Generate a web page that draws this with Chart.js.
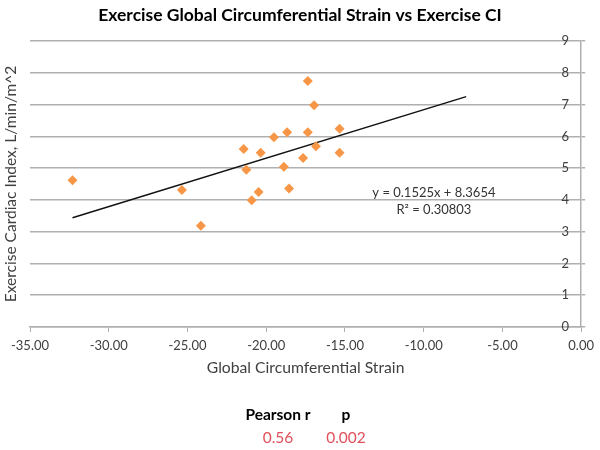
<!DOCTYPE html>
<html>
<head>
<meta charset="utf-8">
<script src="https://cdn.jsdelivr.net/npm/chart.js@4.4.1/dist/chart.umd.min.js"></script>
<style>
  body { margin: 0; background: #fff; }
  #wrap { position: relative; width: 600px; height: 450px; }
  .stat { position: absolute; font-family: Lato, "Open Sans", sans-serif; font-size: 15.5px; transform: translate(-50%, -50%); white-space: nowrap; }
  .head { font-weight: bold; color: #000; }
  .val { color: #e0505a; }
</style>
</head>
<body>
<div id="wrap">
  <canvas id="grafico" width="600" height="450"></canvas>
  <div class="stat head" style="left:278px; top:414px;">Pearson r</div>
  <div class="stat head" style="left:346px; top:414px;">p</div>
  <div class="stat val" style="left:278px; top:437px;">0.56</div>
  <div class="stat val" style="left:346px; top:437px;">0.002</div>
</div>
<script>
// Pontos: strain global circunferencial (x) e índice cardíaco no exercício (y)
const strain = [-32.3, -25.35, -24.15, -21.43, -21.26, -20.35, -20.92, -20.48, -19.51, -18.67,
                -18.88, -18.55, -17.66, -17.36, -17.36, -16.96, -16.84, -15.34, -15.34];
const indiceCardiaco = [4.62, 4.31, 3.19, 5.60, 4.95, 5.48, 3.99, 4.25, 5.97, 6.13,
                        5.04, 4.36, 5.32, 7.74, 6.13, 6.98, 5.69, 6.24, 5.48];

// Extremos da linha de tendência (y = 0.1525x + 8.3654)
const tendenciaX = [-32.3, -7.3];
const tendenciaY = [3.44, 7.25];

const eixoX = { min: -35, max: 0, passo: 5 };
const eixoY = { min: 0, max: 9, passo: 1 };

const equacao = ['y = 0.1525x + 8.3654', 'R² = 0.30803'];

const fonte = 'Lato, "Open Sans", sans-serif';
const corGrade = '#b0b0b0';

// Texto da equação perto da linha
const textoEquacao = {
  id: 'textoEquacao',
  afterDatasetsDraw(chart) {
    const c = chart.ctx;
    const x = chart.scales.x;
    const y = chart.scales.y;
    c.save();
    c.font = '13px ' + fonte;
    c.fillStyle = '#333';
    c.textAlign = 'center';
    c.textBaseline = 'middle';
    c.fillText(equacao[0], x.getPixelForValue(-9.35), y.getPixelForValue(4.21));
    c.fillText(equacao[1], x.getPixelForValue(-9.35), y.getPixelForValue(3.68));
    c.restore();
  }
};

const ctx = document.getElementById('grafico').getContext('2d');

new Chart(ctx, {
  type: 'scatter',
  data: {
    datasets: [
      {
        data: strain.map((v, i) => ({ x: v, y: indiceCardiaco[i] })),
        pointStyle: 'rectRot',
        pointRadius: 5,
        backgroundColor: '#f79646',
        borderColor: '#f79646',
        borderWidth: 0
      },
      {
        type: 'line',
        data: tendenciaX.map((v, i) => ({ x: v, y: tendenciaY[i] })),
        borderColor: '#111',
        borderWidth: 1.5,
        pointRadius: 0,
        fill: false
      }
    ]
  },
  options: {
    responsive: false,
    animation: false,
    layout: { padding: { left: 0, right: 0, top: 0, bottom: 65 } },
    plugins: {
      legend: { display: false },
      tooltip: { enabled: false },
      title: {
        display: true,
        text: 'Exercise Global Circumferential Strain vs Exercise CI',
        color: '#000',
        font: { family: fonte, size: 17.5, weight: 'bold' },
        padding: { top: 4.5, bottom: 15.5 }
      }
    },
    scales: {
      x: {
        type: 'linear',
        min: eixoX.min,
        max: eixoX.max,
        afterFit: (s) => { s.height = 58; },
        ticks: {
          stepSize: eixoX.passo,
          color: '#404040',
          font: { family: fonte, size: 13 },
          padding: 6,
          maxRotation: 0,
          callback: (v) => v.toFixed(2)
        },
        grid: { drawOnChartArea: false, drawTicks: true, tickLength: 5, color: corGrade },
        border: { color: corGrade, width: 1.5 },
        title: {
          display: true,
          text: 'Global Circumferential Strain',
          color: '#404040',
          font: { family: fonte, size: 15.7 },
          padding: { top: 0, bottom: 7.6 }
        }
      },
      y: {
        type: 'linear',
        position: 'right',
        min: eixoY.min,
        max: eixoY.max,
        afterFit: (s) => { s.width = 16; },
        ticks: {
          stepSize: eixoY.passo,
          mirror: true,
          padding: -12,
          color: '#404040',
          font: { family: fonte, size: 13 }
        },
        grid: { color: corGrade, lineWidth: 1.5, tickLength: 4 },
        border: { color: corGrade, width: 1.5 }
      },
      yTitulo: {
        type: 'linear',
        position: 'left',
        min: 0,
        max: 1,
        afterFit: (s) => { s.width = 30; },
        ticks: { display: false },
        grid: { display: false },
        border: { display: false },
        title: {
          display: true,
          text: 'Exercise Cardiac Index, L/min/m^2',
          color: '#404040',
          font: { family: fonte, size: 15.5 },
          padding: { top: 2, bottom: 2 }
        }
      }
    }
  },
  plugins: [textoEquacao]
});
</script>
</body>
</html>
